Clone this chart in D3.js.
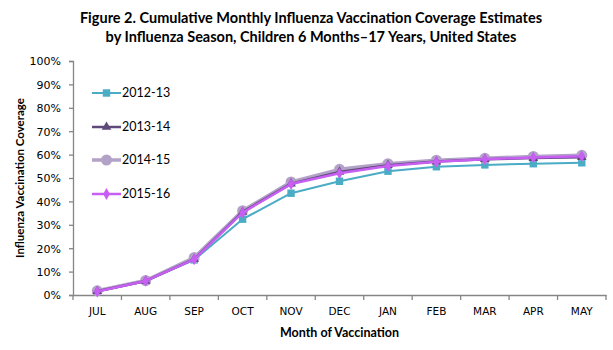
<!DOCTYPE html>
<html lang="en">
<head>
    <meta charset="UTF-8">
    <title>Influenza Vaccination Coverage</title>
    <script src="https://d3js.org/d3.v7.min.js"></script>
    <style>
        body { margin: 0; background: #fff; }
        svg text { fill: #000; }
    </style>
</head>
<body>
    <div id="chart"></div>
    <script>
        const months = ["JUL", "AUG", "SEP", "OCT", "NOV", "DEC", "JAN", "FEB", "MAR", "APR", "MAY"];
        const seasons = ["2012-13", "2013-14", "2014-15", "2015-16"];
        const s2012 = [1.6, 5.9, 15.0, 32.4, 43.5, 48.6, 52.9, 54.8, 55.6, 56.1, 56.5];
        const s2013 = [1.6, 6.0, 15.3, 35.5, 47.6, 52.6, 55.5, 57.0, 58.0, 58.5, 58.9];
        const s2014 = [1.8, 6.2, 16.0, 36.0, 48.3, 53.7, 56.1, 57.6, 58.4, 59.2, 59.7];
        const s2015 = [1.5, 6.0, 15.2, 35.2, 47.4, 52.0, 55.1, 56.9, 58.0, 58.8, 59.3];
        const yTicks = [0, 10, 20, 30, 40, 50, 60, 70, 80, 90, 100];

        const series = [
            { name: seasons[0], values: s2012, color: "#4BACC6", width: 2, marker: "square" },
            { name: seasons[1], values: s2013, color: "#604A7B", width: 2.5, marker: "triangle" },
            { name: seasons[2], values: s2014, color: "#B3A2C7", width: 3.5, marker: "circle" },
            { name: seasons[3], values: s2015, color: "#C65FF2", width: 2.5, marker: "diamond" }
        ];

        const W = 613, H = 350;
        const margin = { top: 61, right: 7, bottom: 55, left: 73 };
        const width = W - margin.left - margin.right;
        const height = H - margin.top - margin.bottom;

        const svg = d3.select("#chart").append("svg")
            .attr("width", W).attr("height", H);

        // title
        const title = svg.append("text")
            .attr("x", 311).attr("text-anchor", "middle")
            .style("font-family", "Lato, 'Open Sans', sans-serif")
            .style("font-weight", "bold").style("font-size", "14.5px");
        title.append("tspan").attr("x", 311).attr("y", 23)
            .text("Figure 2. Cumulative Monthly Influenza Vaccination Coverage Estimates");
        title.append("tspan").attr("x", 311).attr("y", 42)
            .text("by Influenza Season, Children 6 Months\u201317 Years, United States");

        const g = svg.append("g").attr("transform", `translate(${margin.left},${margin.top})`);

        const x = d3.scaleBand().domain(months).range([0, width]);
        const y = d3.scaleLinear().domain([0, 100]).range([height, 0]);

        // y axis
        const yAxis = g.append("g")
            .call(d3.axisLeft(y).tickValues(yTicks).tickSize(4).tickFormat(d => d + "%"));
        yAxis.selectAll("text")
            .style("font-family", "'DejaVu Sans', Verdana, sans-serif")
            .style("font-size", "11px").attr("x", -12).attr("dy", "0.35em");

        // x axis with ticks at band boundaries
        const xAxis = g.append("g").attr("transform", `translate(0,${height})`)
            .call(d3.axisBottom(x).tickSize(0).tickPadding(13));
        xAxis.selectAll("text")
            .style("font-family", "'DejaVu Sans', Verdana, sans-serif")
            .style("font-size", "10.5px");
        xAxis.selectAll(".bound")
            .data(months.map((m, i) => i).concat([months.length]))
            .enter().append("line").attr("class", "bound")
            .attr("x1", i => i * x.step()).attr("x2", i => i * x.step())
            .attr("y1", 0).attr("y2", 5);

        svg.selectAll(".domain, .tick line, .bound")
            .attr("stroke", "#868686").attr("stroke-width", 1.3);

        // axis titles
        svg.append("text")
            .attr("transform", `translate(24,${margin.top + height / 2}) rotate(-90)`)
            .attr("text-anchor", "middle")
            .style("font-family", "Lato, sans-serif").style("font-weight", "bold")
            .style("font-size", "11.5px")
            .text("Influenza Vaccination Coverage");
        svg.append("text")
            .attr("x", margin.left + width / 2).attr("y", 337)
            .attr("text-anchor", "middle")
            .style("font-family", "Lato, sans-serif").style("font-weight", "bold")
            .style("font-size", "12.5px")
            .text("Month of Vaccination");

        const symbols = {
            square: d3.symbol().type(d3.symbolSquare).size(55),
            triangle: d3.symbol().type(d3.symbolTriangle).size(40),
            circle: d3.symbol().type(d3.symbolCircle).size(95),
            diamond: d3.symbol().type(d3.symbolDiamond).size(40)
        };

        const line = d3.line()
            .x((d, i) => x(months[i]) + x.bandwidth() / 2)
            .y(d => y(d));

        // draw in order: 2012-13, 2014-15, 2013-14, 2015-16
        const drawOrder = [series[0], series[2], series[1], series[3]];
        drawOrder.forEach(s => {
            g.append("path").datum(s.values)
                .attr("fill", "none").attr("stroke", s.color)
                .attr("stroke-width", s.width).attr("stroke-linejoin", "round")
                .attr("d", line);
            g.selectAll(null).data(s.values).enter().append("path")
                .attr("d", symbols[s.marker])
                .attr("fill", s.color)
                .attr("transform", (d, i) => `translate(${x(months[i]) + x.bandwidth() / 2},${y(d)})`);
        });

        // legend
        const legendY = [93, 127, 160, 194];
        const legend = svg.append("g");
        series.forEach((s, i) => {
            const row = legend.append("g").attr("transform", `translate(92,${legendY[i]})`);
            row.append("line").attr("x1", 0).attr("x2", 29).attr("y1", 0).attr("y2", 0)
                .attr("stroke", s.color).attr("stroke-width", s.width);
            row.append("path").attr("d", symbols[s.marker]).attr("fill", s.color)
                .attr("transform", "translate(14.5,0)");
            row.append("text").attr("x", 30).attr("dy", "0.35em")
                .style("font-family", "Lato, sans-serif").style("font-size", "12.5px")
                .text(s.name);
        });
    </script>
</body>
</html>
